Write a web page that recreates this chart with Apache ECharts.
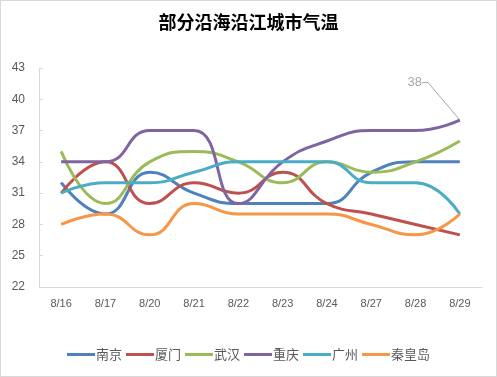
<!DOCTYPE html>
<html>
<head>
<meta charset="utf-8">
<script src="https://cdn.jsdelivr.net/npm/echarts@6/dist/echarts.min.js"></script>
<style>
  html, body { margin: 0; padding: 0; background: #fff; }
  #chart { width: 495px; height: 375px; border: 1px solid #d9d9d9; }
</style>
</head>
<body>
<div id="chart"></div>
<script>
// 日期
var dates = ['8/16', '8/17', '8/20', '8/21', '8/22', '8/23', '8/24', '8/27', '8/28', '8/29'];
// 各城市气温
var nanjing = [32, 29, 33, 31, 30, 30, 30, 33, 34, 34];
var xiamen = [31, 34, 30, 32, 31, 33, 30, 29, 28, 27];
var wuhan = [35, 30, 34, 35, 34, 32, 34, 33, 34, 36];
var chongqing = [34, 34, 37, 37, 30, 34, 36, 37, 37, 38];
var guangzhou = [31, 32, 32, 33, 34, 34, 34, 32, 32, 29];
var qinhuangdao = [28, 29, 27, 30, 29, 29, 29, 28, 27, 29];

var names = ['南京', '厦门', '武汉', '重庆', '广州', '秦皇岛'];
var colors = ['#4f81bd', '#c0504d', '#9bbb59', '#8064a2', '#4bacc6', '#f79646'];
var values = [nanjing, xiamen, wuhan, chongqing, guangzhou, qinhuangdao];

var series = names.map(function (n, i) {
  return {
    name: n,
    type: 'line',
    smooth: 0.5,
    showSymbol: false,
    symbol: 'none',
    lineStyle: { width: 3, color: colors[i] },
    itemStyle: { color: colors[i] },
    data: values[i].slice()
  };
});

// 重庆最后一点标注 38
var last = chongqing.length - 1;
series[3].showSymbol = true;
series[3].symbol = 'circle';
series[3].symbolSize = 0.1;
series[3].label = { show: false };
series[3].data[last] = {
  value: chongqing[last],
  label: {
    show: true,
    position: 'top',
    color: '#a6a6a6',
    fontSize: 13,
    fontFamily: 'Liberation Sans, Arial, sans-serif'
  },
  labelLine: {
    show: true,
    length2: 6,
    lineStyle: { color: '#a6a6a6', width: 1 }
  }
};
series[3].labelLayout = function (p) {
  return { dx: -45, dy: -26 };
};

var myChart = echarts.init(document.getElementById('chart'));
myChart.setOption({
  animation: false,
  color: colors,
  title: {
    text: '部分沿海沿江城市气温',
    left: 'center',
    top: 7,
    textStyle: {
      fontSize: 18,
      fontWeight: 'bold',
      color: '#000',
      fontFamily: 'Noto Sans CJK SC'
    }
  },
  legend: {
    bottom: 10,
    left: 'center',
    itemWidth: 28,
    itemHeight: 3,
    itemGap: 4,
    icon: 'rect',
    textStyle: { color: '#595959', fontSize: 13, fontFamily: 'Noto Sans CJK SC', padding: [0, 0, 0, -4] },
    data: names
  },
  grid: {
    left: 38,
    right: 14,
    top: 67,
    bottom: 89
  },
  xAxis: {
    type: 'category',
    data: dates,
    boundaryGap: true,
    axisLine: { lineStyle: { color: '#d9d9d9', width: 1 } },
    axisTick: { show: false },
    axisLabel: { color: '#595959', fontSize: 11, margin: 11, fontFamily: 'Liberation Sans, Arial, sans-serif' },
    splitLine: { show: false }
  },
  yAxis: {
    type: 'value',
    min: 22,
    max: 43,
    interval: 3,
    axisLine: { show: true, lineStyle: { color: '#d9d9d9', width: 1 } },
    axisTick: { show: true, inside: true, length: 4, lineStyle: { color: '#d9d9d9' } },
    axisLabel: { color: '#595959', fontSize: 12, margin: 14, fontFamily: 'Liberation Sans, Arial, sans-serif' },
    splitLine: { show: false }
  },
  series: series
});
</script>
</body>
</html>
